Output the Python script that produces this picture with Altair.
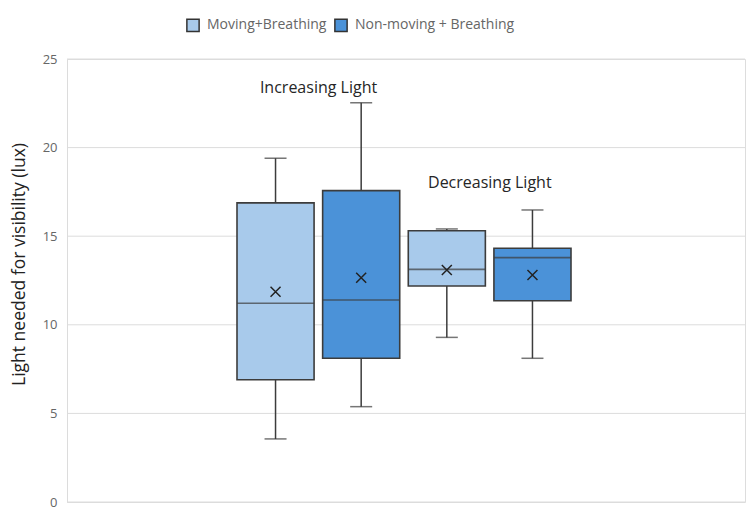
import altair as alt
import pandas as pd

# ---- data ----
slots = ["Inc-M", "Inc-N", "Dec-M", "Dec-N"]
conditions = ["Moving+Breathing", "Non-moving + Breathing", "Moving+Breathing", "Non-moving + Breathing"]
whisker_low = [3.56, 5.38, 9.29, 8.11]
q1 = [6.90, 8.11, 12.19, 11.36]
median = [11.22, 11.40, 13.13, 13.79]
q3 = [16.88, 17.57, 15.31, 14.32]
whisker_high = [19.40, 22.53, 15.41, 16.48]
mean = [11.86, 12.66, 13.09, 12.81]

label_texts = ["Increasing Light", "Decreasing Light"]
label_slots = ["Inc-M", "Dec-M"]
label_y = [23.36, 18.0]

y_ticks = [0, 5, 10, 15, 20, 25]

legend_labels = ["Moving+Breathing", "Non-moving + Breathing"]
colors = ["#a8caeb", "#4b92d8"]

df = pd.DataFrame({
    "slot": slots, "condition": conditions, "lo": whisker_low, "q1": q1,
    "median": median, "q3": q3, "hi": whisker_high, "mean": mean,
})
labels = pd.DataFrame({"slot": label_slots, "text": label_texts, "y": label_y})
grid_df = pd.DataFrame({"v": y_ticks})

FONT = "Open Sans"
STROKE = "#3c3c3c"
W, H = 678, 443

xscale = alt.Scale(domain=slots, range=[170, 504], paddingInner=0.1, paddingOuter=0)
x = alt.X("slot:N", scale=xscale, axis=None, sort=slots)
yscale = alt.Scale(domain=[0, 25], nice=False)

grid = alt.Chart(grid_df).mark_rule(color="#dcdcdc", strokeWidth=1).encode(
    x=alt.value(0), x2=alt.value(W),
    y=alt.Y("v:Q", scale=yscale,
            axis=alt.Axis(values=y_ticks, title="Light needed for visibility (lux)",
                          grid=False, ticks=False, domain=True,
                          domainColor="#dcdcdc", labelColor="#666666", labelFont=FONT,
                          labelFontSize=13, labelPadding=10, titleFont=FONT, titleFontSize=17.5,
                          titleFontWeight="normal", titleColor="#222222", titlePadding=14,
                          titleY=205)),
)

base = alt.Chart(df)

whiskers = base.mark_rule(color=STROKE, strokeWidth=1.5).encode(
    x=x, y=alt.Y("lo:Q", scale=yscale), y2="hi:Q")

caps_lo = base.mark_tick(color=STROKE, size=22, thickness=1.5).encode(x=x, y=alt.Y("lo:Q", scale=yscale))
caps_hi = base.mark_tick(color=STROKE, size=22, thickness=1.5).encode(x=x, y=alt.Y("hi:Q", scale=yscale))

boxes = base.mark_bar(stroke=STROKE, strokeWidth=1.6, opacity=1).encode(
    x=x,
    y=alt.Y("q1:Q", scale=yscale),
    y2="q3:Q",
    color=alt.Color("condition:N",
                    scale=alt.Scale(domain=legend_labels, range=colors),
                    legend=alt.Legend(title=None, orient="none", direction="horizontal",
                                      legendX=119, legendY=-41, symbolType="square",
                                      symbolSize=150, symbolStrokeColor="#333333",
                                      symbolStrokeWidth=1.5, symbolOpacity=1,
                                      labelFont=FONT, labelFontSize=14, labelColor="#666666",
                                      columnPadding=4, labelOffset=7)),
)

medians = base.mark_tick(color=STROKE, size=77, thickness=1.6).encode(
    x=x, y=alt.Y("median:Q", scale=yscale))

means = base.mark_point(shape="M-1,-1L1,1M-1,1L1,-1", size=100, filled=False,
                        color="#222222", strokeWidth=1.5, opacity=1).encode(
    x=x, y=alt.Y("mean:Q", scale=yscale))

texts = alt.Chart(labels).mark_text(font=FONT, fontSize=16, color="#262626", dx=43,
                                    baseline="middle", align="center").encode(
    x=x, y=alt.Y("y:Q", scale=yscale), text="text:N")

chart = alt.layer(grid, whiskers, caps_lo, caps_hi, boxes, medians, means, texts).properties(
    width=W, height=H,
    autosize=alt.AutoSizeParams(type="none"),
    padding={"left": 67, "top": 59, "right": 5, "bottom": 14},
).configure_view(stroke=None).configure(background="white")

chart.save("out.html", embed_options={"renderer": "svg", "actions": False})
